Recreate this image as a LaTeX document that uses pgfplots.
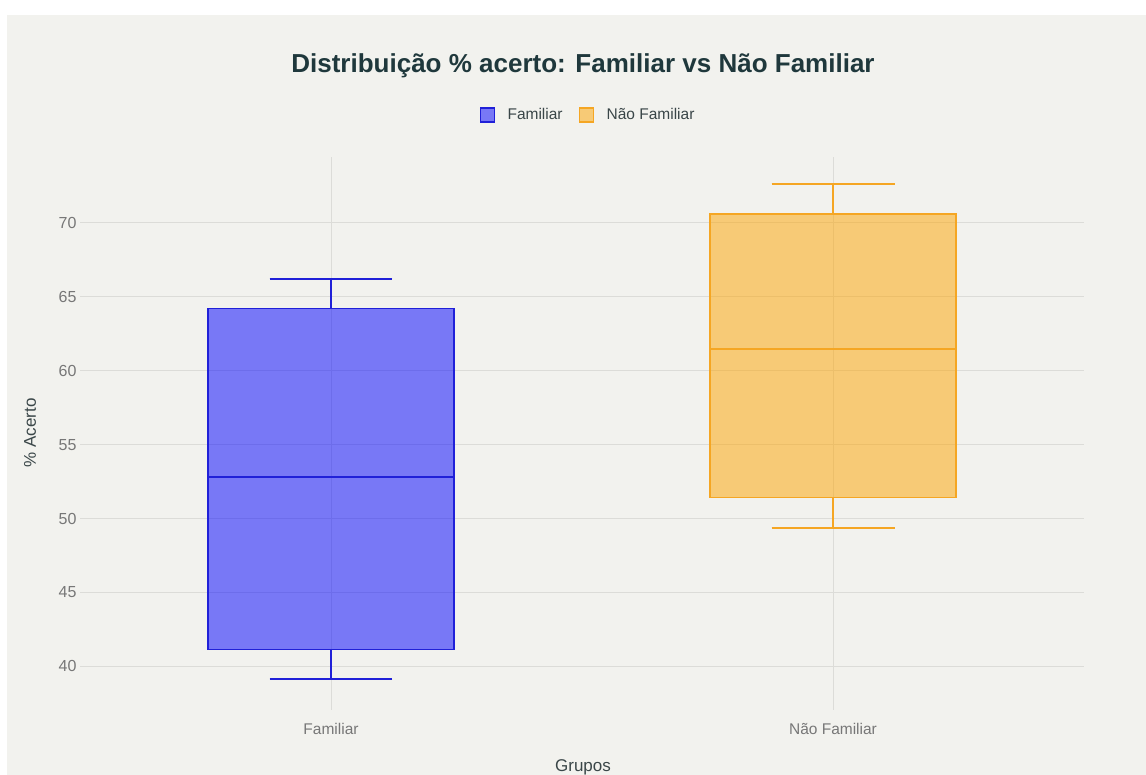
\documentclass[border=0pt]{standalone}
\usepackage{pgfplots}
\pgfplotsset{compat=1.18}
\usepgfplotslibrary{statistics}
\usepackage{fontspec}
\setmainfont{Liberation Sans}

\definecolor{bgc}{HTML}{F2F2EE}
\definecolor{gridc}{HTML}{DCDCD8}
\definecolor{tickc}{HTML}{777777}
\definecolor{titlec}{HTML}{1F383C}
\definecolor{labc}{HTML}{3A4648}
\definecolor{famline}{HTML}{2020D8}
\definecolor{famfill}{HTML}{0000FF}
\definecolor{naoline}{HTML}{F5A623}
\definecolor{naofill}{HTML}{FCA400}

\begin{document}
\begin{tikzpicture}
\useasboundingbox (0pt,0pt) rectangle (1146pt,775pt);
\fill[white] (0pt,0pt) rectangle (1146pt,775pt);
\fill[bgc] (7pt,0pt) rectangle (1146pt,760pt);

\begin{axis}[
    at={(80pt,65pt)}, anchor=south west,
    width=1004pt, height=553pt, scale only axis,
    xmin=-0.5, xmax=1.5,
    ymin=37.05, ymax=74.45,
    boxplot/draw direction=y,
    boxplot/every whisker/.style={line width=2pt},
    boxplot/every median/.style={line width=2pt},
    axis line style={draw=none},
    tick style={draw=none},
    xtick={0,1}, xticklabels={Familiar, Não Familiar},
    ytick={40,45,...,70},
    grid=major,
    major grid style={color=gridc, line width=0.8pt},
    tick label style={color=tickc},
    xticklabel style={font=\fontsize{15.5}{18}\selectfont, yshift=-10pt},
    yticklabel style={font=\fontsize{16}{18}\selectfont},
    /pgf/number format/assume math mode=true,
    legend style={at={(0.506,1.0759)}, anchor=center, draw=none, fill=none,
        font=\fontsize{15.5}{18}\selectfont, text=labc,
        /tikz/every even column/.append style={column sep=14pt}},
    legend columns=2,
]
\addplot[boxplot prepared={draw position=0,
        lower whisker=39.12, lower quartile=41.15, median=52.84,
        upper quartile=64.19, upper whisker=66.22,
        box extend=0.49, whisker extend=0.245},
    draw=famline, fill=famfill, fill opacity=0.5, line width=1.6pt, forget plot]
    coordinates {};
\addplot[boxplot prepared={draw position=1,
        lower whisker=49.39, lower quartile=51.42, median=61.49,
        upper quartile=70.61, upper whisker=72.64,
        box extend=0.49, whisker extend=0.245},
    draw=naoline, fill=naofill, fill opacity=0.5, line width=1.6pt, forget plot]
    coordinates {};

\addlegendimage{legend image code/.code={
    \draw[draw=famline, fill=famfill, fill opacity=0.5, line width=1.5pt] (0pt,-7pt) rectangle (14pt,7pt);
    \path (25pt,0pt);}}
\addlegendentry{Familiar}
\addlegendimage{legend image code/.code={
    \draw[draw=naoline, fill=naofill, fill opacity=0.5, line width=1.5pt] (0pt,-7pt) rectangle (14pt,7pt);
    \path (25pt,0pt);}}
\addlegendentry{Não Familiar}
\end{axis}

\node[text=titlec, font=\fontsize{26}{30}\selectfont\bfseries] at (583pt,709pt) {Distribuição \% acerto: Familiar vs Não Familiar};
\node[text=labc, font=\fontsize{17}{20}\selectfont] at (583pt,8pt) {Grupos};
\node[text=labc, font=\fontsize{17}{20}\selectfont, rotate=90] at (30pt,342pt) {\% Acerto};
\end{tikzpicture}
\end{document}
